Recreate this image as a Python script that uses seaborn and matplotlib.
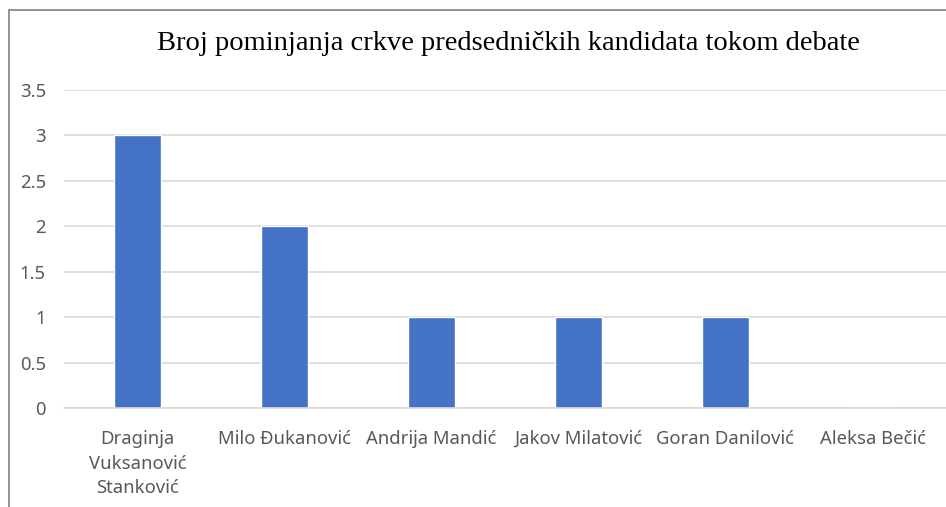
import matplotlib
matplotlib.use("Agg")
import matplotlib.pyplot as plt
import seaborn as sns
import pandas as pd
from matplotlib.patches import Rectangle

sns.set_theme(style="white")
plt.rcParams['font.family'] = ['Noto Sans', 'DejaVu Sans']

# podaci
kandidati = ["Draginja\nVuksanović\nStanković", "Milo Đukanović", "Andrija Mandić",
             "Jakov Milatović", "Goran Danilović", "Aleksa Bečić"]
pominjanja = [3, 2, 1, 1, 1, 0]
y_ticks = [0, 0.5, 1, 1.5, 2, 2.5, 3, 3.5]
y_labels = ["0", "0.5", "1", "1.5", "2", "2.5", "3", "3.5"]
naslov = "Broj pominjanja crkve predsedničkih kandidata tokom debate"

df = pd.DataFrame({"kandidat": kandidati, "broj": pominjanja})

fig = plt.figure(figsize=(9.46, 5.07), dpi=100)
ax = fig.add_axes([64/946, 99/507, 1 - 64/946, (417 - 99)/507])

sns.barplot(data=df, x="kandidat", y="broj", color="#4472C4", width=0.32,
            saturation=1, ax=ax)

ax.set_ylim(0, 3.5)
ax.set_xlim(-0.5, 5.5)
ax.set_yticks(y_ticks)
ax.set_yticklabels(y_labels)
ax.yaxis.grid(True, color="#D9D9D9", linewidth=1.2)
ax.set_axisbelow(True)
for s in ["top", "right", "left"]:
    ax.spines[s].set_visible(False)
ax.spines["bottom"].set_color("#D9D9D9")
ax.spines["bottom"].set_linewidth(1.2)
ax.tick_params(axis="both", length=0, labelsize=13.3, labelcolor="#595959")
ax.tick_params(axis="y", pad=13)
ax.tick_params(axis="x", pad=16)
for lbl in ax.get_xticklabels():
    lbl.set_linespacing(1.45)
ax.set_xlabel("")
ax.set_ylabel("")

fig.text(508/946, 1 - 43/507, naslov, ha="center", va="center",
         fontsize=20.5, family="Liberation Serif", color="black")

# okvir
fig.patches.append(Rectangle((8.5/946, -0.1), 1.2, 1 - 10/507 + 0.1,
                             transform=fig.transFigure, fill=False,
                             edgecolor="#7F7F7F", linewidth=1.2))

plt.savefig("out.png", dpi=100)
